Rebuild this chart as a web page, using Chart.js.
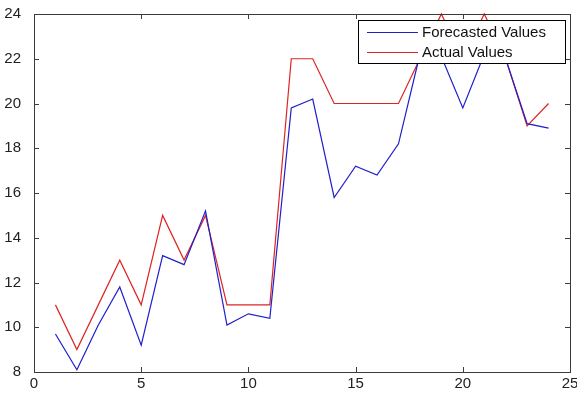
<!DOCTYPE html>
<html>
<head>
<meta charset="utf-8">
<script src="https://cdn.jsdelivr.net/npm/chart.js@4"></script>
<style>
  html, body { margin: 0; padding: 0; background: #fff; }
  #wrap { width: 577px; height: 393px; }
</style>
</head>
<body>
<div id="wrap"><canvas id="grafico"></canvas></div>
<script>
const pasos = [1, 2, 3, 4, 5, 6, 7, 8, 9, 10, 11, 12, 13, 14, 15, 16, 17, 18, 19, 20, 21, 22, 23, 24];

const previstos = [9.7, 8.1, 10.1, 11.8, 9.2, 13.2, 12.8, 15.2, 10.1, 10.6, 10.4, 19.8,
  20.2, 15.8, 17.2, 16.8, 18.2, 22.2, 22.1, 19.8, 22.2, 22, 19.1, 18.9];

const reales = [11, 9, 11, 13, 11, 15, 13, 15, 11, 11, 11, 22,
  22, 20, 20, 20, 20, 22, 24, 22, 24, 22, 19, 20];

const etiquetas = ["Forecasted Values", "Actual Values"];

const colorAzul = "#1f1fcc";
const colorRojo = "#dd2424";

// caja, marcas hacia dentro y leyenda al estilo matlab
const cajaMatlab = {
  id: "cajaMatlab",
  afterDraw(chart) {
    const ctx = chart.ctx;
    const a = chart.chartArea;
    const x = chart.scales.x;
    const y = chart.scales.y;
    const largo = 5;

    ctx.save();
    ctx.strokeStyle = "#3c3c3c";
    ctx.lineWidth = 1;
    ctx.strokeRect(a.left + 0.5, a.top + 0.5, a.right - a.left, a.bottom - a.top);

    ctx.beginPath();
    x.ticks.forEach((t) => {
      let px = Math.round(x.getPixelForValue(t.value)) + 0.5;
      ctx.moveTo(px, a.bottom);
      ctx.lineTo(px, a.bottom - largo);
      ctx.moveTo(px, a.top);
      ctx.lineTo(px, a.top + largo);
    });
    y.ticks.forEach((t) => {
      let py = Math.round(y.getPixelForValue(t.value)) + 0.5;
      ctx.moveTo(a.left, py);
      ctx.lineTo(a.left + largo, py);
      ctx.moveTo(a.right, py);
      ctx.lineTo(a.right - largo, py);
    });
    ctx.stroke();

    // leyenda
    const bx = 358, by = 20, bw = 207, bh = 43;
    ctx.fillStyle = "#fff";
    ctx.fillRect(bx, by, bw, bh);
    ctx.strokeStyle = "#000";
    ctx.strokeRect(bx + 0.5, by + 0.5, bw, bh);

    ctx.font = "15px 'Liberation Sans', Arial, sans-serif";
    ctx.textBaseline = "middle";
    chart.data.datasets.forEach((ds, i) => {
      let ly = by + 12 + i * 20 + 0.5;
      ctx.strokeStyle = ds.borderColor;
      ctx.beginPath();
      ctx.moveTo(bx + 9, ly);
      ctx.lineTo(bx + 60, ly);
      ctx.stroke();
      ctx.fillStyle = "#111";
      ctx.fillText(ds.label, bx + 64, ly);
    });
    ctx.restore();
  },
};

new Chart(document.getElementById("grafico"), {
  type: "line",

  data: {
    datasets: [
      {
        label: etiquetas[0],
        data: pasos.map((p, i) => ({ x: p, y: previstos[i] })),
        borderColor: colorAzul,
        borderWidth: 1.2,
        pointRadius: 0,
        tension: 0,
      },
      {
        label: etiquetas[1],
        data: pasos.map((p, i) => ({ x: p, y: reales[i] })),
        borderColor: colorRojo,
        borderWidth: 1.2,
        pointRadius: 0,
        tension: 0,
      },
    ],
  },

  options: {
    responsive: true,
    maintainAspectRatio: false,
    animation: false,
    clip: false,
    layout: {
      padding: { top: 11, right: 7, left: 0, bottom: 0 },
    },
    plugins: {
      legend: { display: false },
      tooltip: { enabled: false },
    },
    scales: {
      x: {
        type: "linear",
        min: 0,
        max: 25,
        grid: { display: false },
        border: { display: false },
        ticks: {
          stepSize: 5,
          color: "#222",
          padding: -5,
          maxRotation: 0,
          font: { family: "'Liberation Sans', Arial, sans-serif", size: 15 },
        },
        afterFit(scale) {
          scale.height = 21;
        },
      },
      y: {
        min: 8,
        max: 24,
        grid: { display: false },
        border: { display: false },
        ticks: {
          stepSize: 2,
          color: "#222",
          padding: 5,
          font: { family: "'Liberation Sans', Arial, sans-serif", size: 15 },
        },
        afterFit(scale) {
          scale.width = 34;
        },
      },
    },
  },
  plugins: [cajaMatlab],
});
</script>
</body>
</html>
